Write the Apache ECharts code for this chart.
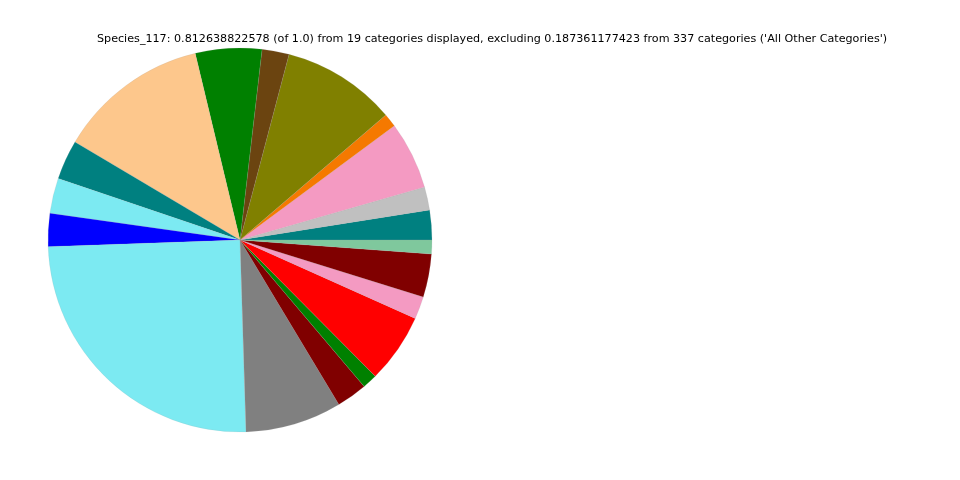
<!DOCTYPE html>
<html><head><meta charset="utf-8">
<script src="https://cdn.jsdelivr.net/npm/echarts@6/dist/echarts.min.js"></script>
<style>html,body{margin:0;padding:0;background:#fff}#c{width:960px;height:480px}</style>
</head><body><div id="c"></div>
<script>
const titleText = "Species_117: 0.812638822578 (of 1.0) from 19 categories displayed, excluding 0.187361177423 from 337 categories ('All Other Categories')";
const categories = ["Cat 1","Cat 2","Cat 3","Cat 4","Cat 5","Cat 6","Cat 7","Cat 8","Cat 9","Cat 10","Cat 11","Cat 12","Cat 13","Cat 14","Cat 15","Cat 16","Cat 17","Cat 18","Cat 19"];
// slice sizes in degrees (counterclockwise from east)
const sliceDegrees = [9.0, 7.0, 20.5, 4.1, 34.6, 8.2, 20.1, 45.8, 12.0, 10.7, 10.0, 89.8, 29.2, 9.3, 4.5, 21.1, 6.8, 13.1, 4.2];
const colors = ["#008080","#c0c0c0","#f49ac2","#f57900","#808000","#6b4410","#008000","#fdc78c","#008080","#7ceaf2","#0000ff","#7ceaf2","#808080","#800000","#008000","#ff0000","#f49ac2","#800000","#7fc89d"];
const displayedTotal = 0.812638822578;
const values = sliceDegrees.map(d => d / 360 * displayedTotal);

const chart = echarts.init(document.getElementById('c'), null, {renderer: 'canvas'});
chart.setOption({
  animation: false,
  title: {
    text: titleText,
    left: 97, top: 34, padding: 0,
    textStyle: {fontFamily: 'DejaVu Sans', fontSize: 11.15, fontWeight: 'normal', color: '#000'}
  },
  series: [{
    type: 'pie',
    center: [240, 240],
    radius: [0, 192],
    startAngle: 0,
    clockwise: false,
    label: {show: false},
    labelLine: {show: false},
    emphasis: {disabled: true},
    itemStyle: {borderColor: 'rgba(160,160,160,0.5)', borderWidth: 0.3},
    data: categories.map((c, i) => ({name: c, value: values[i], itemStyle: {color: colors[i]}}))
  }]
});
</script></body></html>
